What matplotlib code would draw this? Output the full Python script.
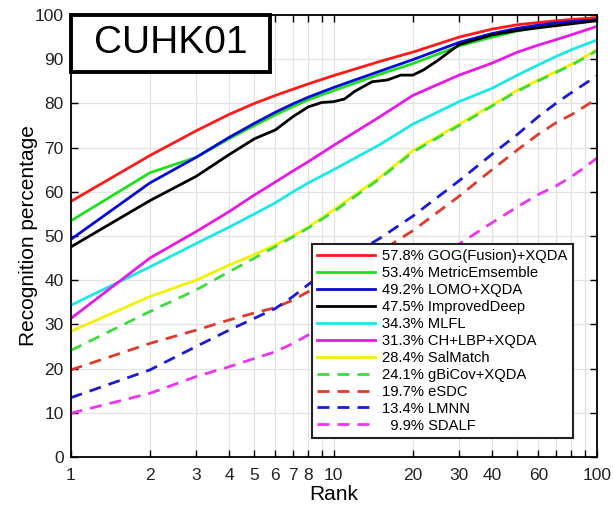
import numpy as np
import matplotlib
matplotlib.use("Agg")
import matplotlib.pyplot as plt
from matplotlib.patches import Rectangle

plt.rcParams['font.family'] = ['Liberation Sans', 'DejaVu Sans']

ranks = [1, 2, 3, 4, 5, 6, 7, 8, 10, 15, 20, 30, 40, 50, 60, 70, 80, 90, 100]
gog = [57.8, 68.2, 73.8, 77.5, 80.0, 81.8, 83.2, 84.4, 86.3, 89.5, 91.6, 95.0, 96.8, 97.8, 98.3, 98.7, 99.0, 99.2, 99.4]
metric = [53.4, 64.3, 67.8, 72.0, 75.0, 77.4, 79.3, 80.8, 82.9, 86.6, 89.0, 93.0, 95.0, 96.4, 97.2, 97.8, 98.2, 98.5, 98.8]
lomo = [49.2, 62.0, 67.8, 72.3, 75.5, 78.0, 79.9, 81.4, 83.6, 87.3, 89.9, 93.8, 95.8, 97.0, 97.7, 98.2, 98.5, 98.7, 98.9]
deep_ranks = [1, 2, 3, 4, 5, 6, 7, 8, 9, 10, 11, 12, 14, 16, 18, 20, 22, 25, 28, 30, 40, 50, 60, 80, 100]
deep = [47.5, 58.0, 63.5, 68.4, 72.0, 74.0, 77.0, 79.2, 80.2, 80.4, 81.0, 82.7, 84.9, 85.3, 86.4, 86.4, 87.6, 89.8, 92.0, 93.3, 95.5, 96.5, 97.1, 98.0, 98.7]
mlfl = [34.3, 43.0, 48.3, 52.0, 55.0, 57.5, 60.0, 62.0, 65.0, 70.7, 75.3, 80.4, 83.4, 86.4, 88.7, 90.6, 92.1, 93.3, 94.3]
chlbp = [31.3, 45.0, 51.0, 55.5, 59.3, 62.2, 64.7, 66.8, 70.5, 77.0, 81.8, 86.4, 89.1, 91.6, 93.2, 94.4, 95.5, 96.5, 97.4]
salmatch = [28.4, 36.3, 40.0, 43.4, 45.8, 48.0, 50.0, 52.0, 55.9, 63.3, 69.3, 75.3, 79.6, 83.0, 85.3, 87.2, 88.8, 90.5, 92.1]
gbicov = [24.1, 32.9, 37.8, 41.9, 45.0, 47.6, 49.8, 51.8, 55.5, 63.0, 69.0, 75.0, 79.4, 82.8, 85.1, 87.0, 88.6, 90.3, 91.9]
esdc = [19.7, 25.7, 28.7, 31.0, 32.6, 33.8, 35.5, 37.4, 40.5, 46.5, 51.2, 59.0, 65.0, 69.5, 73.0, 75.6, 77.4, 79.3, 81.0]
lmnn = [13.4, 19.7, 25.0, 28.7, 31.4, 33.6, 36.3, 39.0, 43.2, 49.5, 54.5, 62.5, 68.5, 73.0, 77.0, 80.0, 82.4, 84.4, 86.2]
sdalf = [9.9, 14.4, 18.2, 20.4, 22.3, 23.8, 25.7, 27.6, 30.5, 36.0, 40.2, 48.2, 53.0, 56.6, 59.4, 61.3, 63.4, 65.5, 67.6]

labels = ["57.8% GOG(Fusion)+XQDA", "53.4% MetricEmsemble", "49.2% LOMO+XQDA",
          "47.5% ImprovedDeep", "34.3% MLFL", "31.3% CH+LBP+XQDA", "28.4% SalMatch",
          "24.1% gBiCov+XQDA", "19.7% eSDC", "13.4% LMNN", "  9.9% SDALF"]

xticks = [1, 2, 3, 4, 5, 6, 7, 8, 9, 10, 20, 30, 40, 50, 60, 70, 80, 90, 100]
xticklabels = ["1", "2", "3", "4", "5", "6", "7", "8", "", "10", "20", "30", "40", "", "60", "", "", "", "100"]
yticks = list(range(0, 101, 10))

fig = plt.figure(figsize=(6.13, 5.07), dpi=100)
ax = fig.add_axes([0.1153, 0.0986, 0.858, 0.8718])

series = [
    (ranks, gog, '#ff1a1a', '-'),
    (ranks, metric, '#1fe01f', '-'),
    (ranks, lomo, '#0a0ad8', '-'),
    (deep_ranks, deep, '#000000', '-'),
    (ranks, mlfl, '#1ae8e8', '-'),
    (ranks, chlbp, '#e61ae6', '-'),
    (ranks, salmatch, '#f2f200', '-'),
    (ranks, gbicov, '#3ddc3d', '--'),
    (ranks, esdc, '#e03a2a', '--'),
    (ranks, lmnn, '#1a1ad8', '--'),
    (ranks, sdalf, '#ee33ee', '--'),
]
for (xr, yv, c, ls), lab in zip(series, labels):
    if ls == '--':
        ax.plot(xr, yv, color=c, lw=2.0, dashes=(4.3, 2.9), label=lab)
    else:
        ax.plot(xr, yv, color=c, lw=2.0, label=lab)

ax.set_xscale('log')
ax.set_xlim(1, 100)
ax.set_ylim(0, 100)
ax.set_xticks(xticks)
ax.set_xticklabels(xticklabels)
ax.xaxis.set_minor_locator(matplotlib.ticker.NullLocator())
ax.set_yticks(yticks)
ax.tick_params(direction='in', top=True, right=True, labelsize=12.5, length=5, width=1,
               labelcolor='#222222')
ax.tick_params(axis='x', pad=8)
ax.tick_params(axis='y', pad=5)
ax.grid(True, color='#e2e2e2', lw=0.9)
ax.set_axisbelow(True)
for s in ax.spines.values():
    s.set_linewidth(1.3)

ax.set_xlabel("Rank", fontsize=15, labelpad=1)
ax.set_ylabel("Recognition percentage", fontsize=15, labelpad=-2)

leg = ax.legend(loc='upper left', bbox_to_anchor=(0.459, 0.482), borderaxespad=0,
                fontsize=10.6, handlelength=3.9, handletextpad=0.5, labelspacing=0.2,
                borderpad=0.35, fancybox=False, framealpha=1, edgecolor='#222222')
leg.get_frame().set_linewidth(1.5)

ax.add_patch(Rectangle((0, 0.871), 0.379, 0.129, transform=ax.transAxes,
                       facecolor='white', edgecolor='black', lw=2.8, zorder=5, clip_on=False))
ax.text(0.19, 0.937, "CUHK01", transform=ax.transAxes, fontsize=28, ha='center',
        va='center', zorder=6)

fig.savefig("out.png", dpi=100)
